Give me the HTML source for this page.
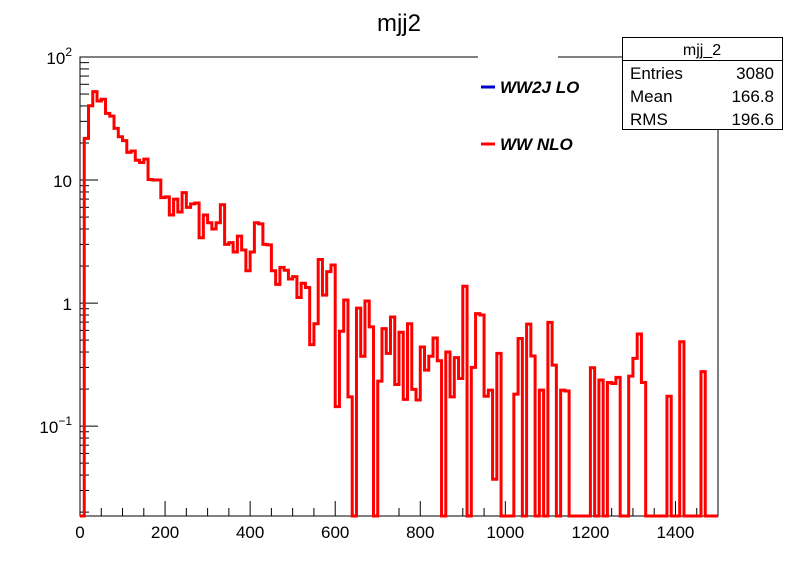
<!DOCTYPE html>
<html><head><meta charset="utf-8"><style>
body{margin:0;background:#fff;}
svg{display:block;font-family:"Liberation Sans",sans-serif;}
</style></head><body>
<svg id="c" width="798" height="574" viewBox="0 0 798 574">
<rect x="0" y="0" width="798" height="574" fill="#fff"/>
<text x="399" y="31" font-size="24" text-anchor="middle">mjj2</text>
<g id="axes"></g>
<g id="hist"></g>
<g id="legend">
<rect x="478" y="50" width="80" height="120" fill="#fff"/>
<line x1="481" y1="87" x2="495" y2="87" stroke="#0000cc" stroke-width="3"/>
<text x="500" y="93" font-size="17" font-weight="bold" font-style="italic">WW2J LO</text>
<line x1="481" y1="144" x2="495" y2="144" stroke="#ff0000" stroke-width="3"/>
<text x="500" y="150" font-size="17" font-weight="bold" font-style="italic">WW NLO</text>
</g>
<g id="stats">
<rect x="622.5" y="37.5" width="160" height="92" fill="#fff" stroke="#000" stroke-width="1"/>
<line x1="622" y1="60.5" x2="782" y2="60.5" stroke="#000"/>
<text x="702" y="55" font-size="16" text-anchor="middle">mjj_2</text>
<text x="630" y="79" font-size="17">Entries</text>
<text x="774" y="79" font-size="17" text-anchor="end">3080</text>
<text x="630" y="102" font-size="17">Mean</text>
<text x="774" y="102" font-size="17" text-anchor="end">166.8</text>
<text x="630" y="125" font-size="17">RMS</text>
<text x="774" y="125" font-size="17" text-anchor="end">196.6</text>
</g>
</svg>
<script>
const binLow = 0, binWidth = 10;
const counts = [
0,21.8,40.2,52.3,43.9,45.3,34.8,33.1,26.3,22.5,
20.9,16.8,17.2,14.5,13.9,14.8,10.1,10,10,7.2,
7.3,5.2,7.0,5.5,7.9,6.0,6.4,6.5,3.4,5.2,
4.5,4.0,4.5,6.3,3.0,3.1,2.6,3.5,2.7,1.83,
2.6,4.5,4.4,3.0,2.97,1.83,1.42,1.95,1.85,1.57,
1.64,1.11,1.45,1.34,0.46,0.68,2.26,1.16,1.80,2.04,
0.144,0.59,1.06,0.173,0,0.91,0.37,1.04,0.64,0,
0.232,0.62,0.39,0.77,0.218,0.58,0.165,0.68,0.199,0.163,
0.44,0.285,0.37,0.52,0.34,0,0.40,0.173,0.36,0.244,
1.37,0,0.30,0.82,0.80,0.175,0.196,0.037,0.39,0,
0,0,0.182,0.516,0,0.675,0.371,0,0.196,0,
0.697,0.313,0,0.196,0.193,0,0,0,0,0,
0.298,0,0.237,0,0.226,0.222,0.249,0,0,0.255,
0.355,0.56,0.226,0,0,0,0,0,0.175,0,
0,0.485,0,0,0,0,0.277,0,0,0
];
const xTicks = [0,200,400,600,800,1000,1200,1400];
const yDecades = [-1,0,1,2];
const yBase = ["10","1","10","10"];
const yExp = ["\u22121","","","2"];

const X0=80, X1=718, Y0=516, Y1=57;
const xMin=0, xMax=1500, yMinLog=Math.log10(0.0186), yMaxLog=2;
function xs(v){return X0+(v-xMin)/(xMax-xMin)*(X1-X0);}
function ys(v){const l=Math.max(Math.log10(Math.max(v,1e-9)),yMinLog);return Y0-(l-yMinLog)/(yMaxLog-yMinLog)*(Y0-Y1);}
const NS="http://www.w3.org/2000/svg";
function mk(tag,attrs,parent){const e=document.createElementNS(NS,tag);for(const k in attrs)e.setAttribute(k,attrs[k]);parent.appendChild(e);return e;}
const ax=document.getElementById('axes');
let fr=mk('path',{d:`M${X0} ${Y1}H${X1}V${Y0}H${X0}Z`,fill:'none',stroke:'#000','stroke-width':1},ax);


for(let v=0;v<=xMax;v+=50){
  const major=v%200===0;
  const t=mk('line',{x1:xs(v),x2:xs(v),y1:Y0,y2:Y0-(major?15:8),stroke:'#000','stroke-width':1},ax);
  
  
}
xTicks.forEach(v=>{
  const t=mk('text',{x:xs(v),y:Y0+22,'font-size':17,'text-anchor':'middle'},ax);
  t.textContent=v;
  
  
});
for(let d=-2;d<=1;d++){
  for(let m=1;m<=9;m++){
    const v=m*Math.pow(10,d);
    const l=Math.log10(v);
    if(l<yMinLog-1e-9||l>yMaxLog+1e-9)continue;
    const y=ys(v);
    const t=mk('line',{x1:X0,x2:X0+(m===1?18:9),y1:y,y2:y,stroke:'#000','stroke-width':1},ax);
    
    
  }
}
{const t=mk('line',{x1:X0,x2:X0+18,y1:ys(100),y2:ys(100),stroke:'#000'},ax);

}
yDecades.forEach((d,i)=>{
  const y=ys(Math.pow(10,d))+7;
  const t=mk('text',{x:X0-8,y:y,'font-size':17,'text-anchor':'end'},ax);
  
  
  const b=mk('tspan',{},t); b.textContent=yBase[i];
  if(yExp[i]){const e=mk('tspan',{dy:-8,'font-size':12},t); e.textContent=yExp[i];}
});
const hg=document.getElementById('hist');
let d=`M${xs(binLow)} ${Y0}`;
counts.forEach((c,i)=>{
  const xa=xs(binLow+i*binWidth), xb=xs(binLow+(i+1)*binWidth), y=ys(c);
  d+=`L${xa.toFixed(2)} ${y.toFixed(2)}L${xb.toFixed(2)} ${y.toFixed(2)}`;
});
d+=`L${xs(binLow+counts.length*binWidth)} ${Y0}`;
const p=mk('path',{d:d,fill:'none',stroke:'#ff0000','stroke-width':3,'stroke-linejoin':'miter'},hg);


const svg=document.getElementById('c');
svg.appendChild(document.getElementById('legend'));
svg.appendChild(document.getElementById('stats'));
</script>
</body></html>
